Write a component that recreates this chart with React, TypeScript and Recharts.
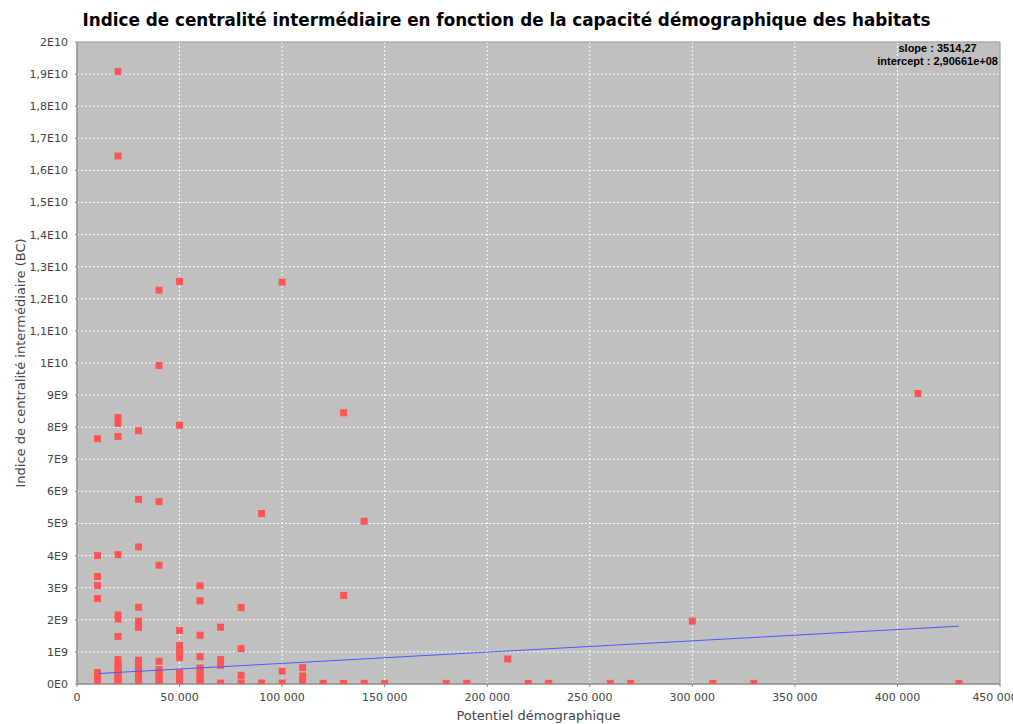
import React from "react";
import {
  CartesianGrid,
  Label,
  ReferenceArea,
  Scatter,
  ScatterChart,
  XAxis,
  YAxis,
} from "recharts";

// Potentiel démographique (x) et indice BC en milliards (y), point par point
const potentiel = [
  10000, 10000, 10000, 10000, 10000, 10000, 10000, 10000, 10000, 10000,
  20000, 20000, 20000, 20000, 20000, 20000, 20000, 20000, 20000, 20000, 20000, 20000, 20000, 20000, 20000, 20000, 20000, 20000,
  30000, 30000, 30000, 30000, 30000, 30000, 30000, 30000, 30000, 30000, 30000, 30000, 30000, 30000, 30000, 30000,
  40000, 40000, 40000, 40000, 40000, 40000, 40000, 40000, 40000, 40000, 40000,
  50000, 50000, 50000, 50000, 50000, 50000, 50000, 50000, 50000, 50000, 50000, 50000,
  60000, 60000, 60000, 60000, 60000, 60000, 60000, 60000, 60000, 60000,
  70000, 70000, 70000, 70000,
  80000, 80000, 80000, 80000,
  90000, 90000,
  100000, 100000, 100000,
  110000, 110000, 110000, 110000,
  120000,
  130000, 130000, 130000,
  140000, 140000,
  150000, 180000, 190000, 210000, 220000, 230000, 260000, 270000,
  300000, 310000, 330000, 410000, 430000,
];

const bcMilliards = [
  7.64, 4.0, 3.35, 3.07, 2.66, 0.36, 0.27, 0.18, 0.09, 0.02,
  19.08, 16.45, 8.3, 8.12, 7.71, 4.03, 2.15, 2.02, 1.48, 0.76, 0.66, 0.56, 0.46, 0.36, 0.26, 0.16, 0.08, 0.02,
  7.89, 5.75, 4.27, 2.39, 1.96, 1.86, 1.76, 0.74, 0.64, 0.54, 0.44, 0.34, 0.24, 0.14, 0.06, 0.02,
  12.27, 9.92, 5.68, 3.7, 0.71, 0.45, 0.35, 0.25, 0.15, 0.06, 0.02,
  12.54, 8.06, 1.67, 1.2, 1.02, 0.92, 0.82, 0.34, 0.24, 0.14, 0.06, 0.02,
  3.06, 2.59, 1.52, 0.85, 0.5, 0.4, 0.3, 0.2, 0.1, 0.02,
  1.77, 0.76, 0.58, 0.03,
  2.38, 1.1, 0.27, 0.03,
  5.31, 0.03,
  12.52, 0.4, 0.03,
  0.51, 0.25, 0.12, 0.03,
  0.02,
  8.45, 2.76, 0.02,
  5.07, 0.02,
  0.02, 0.02, 0.02, 0.78, 0.02, 0.02, 0.02, 0.02,
  1.96, 0.02, 0.02, 9.05, 0.02,
];

// droite de régression (slope 3514,27 ; intercept 2,90661e+08)
const regX = [10000, 430000];
const regY = [325803700, 1801854700];

const xTicks = [0, 50000, 100000, 150000, 200000, 250000, 300000, 350000, 400000, 450000];
const xTickLabels = ["0", "50 000", "100 000", "150 000", "200 000", "250 000", "300 000", "350 000", "400 000", "450 000"];

const yTicks = [
  0, 1e9, 2e9, 3e9, 4e9, 5e9, 6e9, 7e9, 8e9, 9e9, 1e10, 1.1e10, 1.2e10, 1.3e10, 1.4e10,
  1.5e10, 1.6e10, 1.7e10, 1.8e10, 1.9e10, 2e10,
];
const yTickLabels = [
  "0E0", "1E9", "2E9", "3E9", "4E9", "5E9", "6E9", "7E9", "8E9", "9E9", "1E10", "1,1E10", "1,2E10",
  "1,3E10", "1,4E10", "1,5E10", "1,6E10", "1,7E10", "1,8E10", "1,9E10", "2E10",
];

const points = potentiel.map((x, i) => ({ x, y: bcMilliards[i] * 1e9 }));
const regLine = regX.map((x, i) => ({ x, y: regY[i] }));

const tickStyle = { fontFamily: "DejaVu Sans", fontSize: 11, fill: "#444444" };

const Square = (props: any) => {
  const { cx, cy } = props;
  if (cx == null || cy == null) return <g />;
  return <rect x={cx - 3.5} y={cy - 3.5} width={7} height={7} fill="#ff5555" />;
};

export default function App() {
  return (
    <div style={{ position: "fixed", left: 0, top: 0, width: 1013, height: 724, background: "#fff" }}>
      <div
        style={{
          position: "absolute",
          left: 0,
          width: 1013,
          top: 12,
          textAlign: "center",
          fontFamily: "DejaVu Sans",
          fontWeight: "bold",
          fontSize: 16.8,
          lineHeight: "17px",
          color: "#000",
        }}
      >
        Indice de centralité intermédiaire en fonction de la capacité démographique des habitats
      </div>
      <ScatterChart width={1013} height={724} margin={{ top: 42, right: 13, bottom: 0, left: 0 }}>
        <CartesianGrid fill="#c0c0c0" stroke="#ffffff" strokeDasharray="2 2" horizontalValues={yTicks} verticalValues={xTicks} />
        <XAxis
          type="number"
          dataKey="x"
          domain={[0, 450000]}
          ticks={xTicks}
          tickFormatter={(v: number) => xTickLabels[xTicks.indexOf(v)] ?? String(v)}
          height={40}
          tick={tickStyle}
          tickSize={3}
          tickMargin={6}
          stroke="#888888"
          allowDataOverflow
        >
          <Label
            value="Potentiel démographique"
            position="insideBottom"
            offset={4}
            style={{ fontFamily: "DejaVu Sans", fontSize: 13, fill: "#444444" }}
          />
        </XAxis>
        <YAxis
          type="number"
          dataKey="y"
          domain={[0, 2e10]}
          ticks={yTicks}
          tickFormatter={(v: number) => yTickLabels[yTicks.indexOf(v)] ?? String(v)}
          width={77}
          tick={tickStyle}
          tickSize={2}
          tickMargin={7}
          stroke="#888888"
          allowDataOverflow
        >
          <Label
            value="Indice de centralité intermédiaire (BC)"
            angle={-90}
            position="center"
            dx={-18}
            style={{ fontFamily: "DejaVu Sans", fontSize: 13, fill: "#444444", textAnchor: "middle" }}
          />
        </YAxis>
        <ReferenceArea x1={0} x2={450000} y1={0} y2={2e10} fill="none" stroke="#8a8a8a" strokeWidth={1} />
        <Scatter data={points} shape={Square} isAnimationActive={false} />
        <Scatter
          data={regLine}
          line={{ stroke: "#5555ff", strokeWidth: 1 }}
          lineType="joint"
          shape={() => <g />}
          isAnimationActive={false}
        />
      </ScatterChart>
      <div
        style={{
          position: "absolute",
          right: 15,
          top: 42,
          textAlign: "center",
          fontFamily: "Liberation Sans",
          fontWeight: "bold",
          fontSize: 11,
          lineHeight: "12.7px",
          color: "#000",
        }}
      >
        <div>slope : 3514,27</div>
        <div>intercept : 2,90661e+08</div>
      </div>
    </div>
  );
}
